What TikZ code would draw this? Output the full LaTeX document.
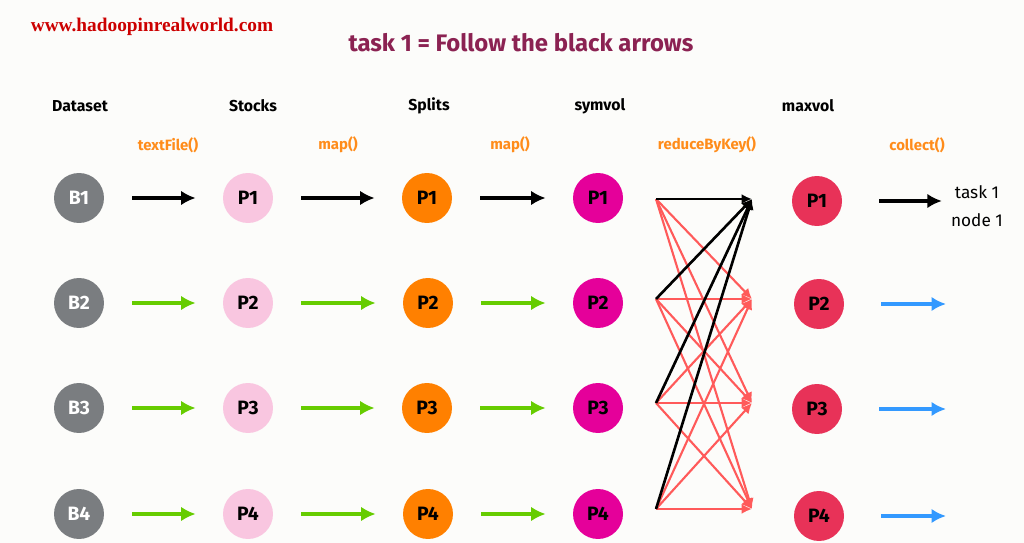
\documentclass[tikz,border=0pt]{standalone}
\usepackage{fontspec}
\setmainfont{Fira Sans}
\newfontfamily\webfont{Liberation Serif}
\usetikzlibrary{arrows.meta,positioning,calc}
\definecolor{pagebg}{RGB}{252,252,250}
\definecolor{blockgray}{RGB}{122,125,128}
\definecolor{stockpink}{RGB}{249,198,224}
\definecolor{splitorange}{RGB}{255,128,0}
\definecolor{symmagenta}{RGB}{229,0,154}
\definecolor{maxred}{RGB}{232,50,88}
\definecolor{opcolor}{RGB}{255,140,26}
\definecolor{titlecolor}{RGB}{139,34,82}
\definecolor{webred}{RGB}{204,0,0}
\definecolor{greenarrow}{RGB}{102,204,0}
\definecolor{bluearrow}{RGB}{51,153,255}
\definecolor{shufred}{RGB}{255,90,90}
\tikzset{
  part/.style={circle,minimum size=1cm,inner sep=0pt,font=\bfseries\fontsize{11}{13}\selectfont},
  blk/.style={part,fill=blockgray,text=white},
  stk/.style={part,fill=stockpink},
  spl/.style={part,fill=splitorange},
  sym/.style={part,fill=symmagenta},
  mxv/.style={part,fill=maxred},
  head/.style={font=\bfseries\fontsize{9}{11}\selectfont},
  op/.style={font=\bfseries\fontsize{8.5}{10}\selectfont,text=opcolor},
  link/.style={-{Latex[length=2.9mm,width=2.9mm]},line width=2pt,shorten <=5.6mm,shorten >=5.4mm},
  shuf/.style={-{Latex[length=2.1mm,width=2mm]},line width=1.2pt,shufred},
}

\begin{document}
\begin{tikzpicture}[x=0.02cm,y=-0.02cm]
\path[use as bounding box,fill=pagebg] (0,0) rectangle (1024,543);
\node (web) at (152,27) {\webfont\bfseries\fontsize{11}{13}\selectfont\color{webred}www.hadoopinrealworld.com};
\node (title) at (521,43) [font=\bfseries\fontsize{13.6}{16}\selectfont,text=titlecolor] {task 1 = Follow the black arrows};
% column heads
\node[head] (hdata) at (80,106) {Dataset};
\node[head] (hstk) at (253,106) {Stocks};
\node[head] (hspl) at (429,106) {Splits};
\node[head] (hsym) at (600,106) {symvol};
\node[head] (hmax) at (808,106) {maxvol};
\node[op] (otext) at (168,145) {textFile()};
\node[op] (omap1) at (338,145) {map()};
\node[op] (omap2) at (510,145) {map()};
\node[op] (ored) at (707,145) {reduceByKey()};
\node[op] (ocol) at (917,145) {collect()};
% partitions
\node[blk] (b1) at (79,198) {B1};
\node[blk] (b2) at (79,303) {B2};
\node[blk] (b3) at (79,408) {B3};
\node[blk] (b4) at (79,514) {B4};
\node[stk] (s1) at (248,198) {P1};
\node[stk] (s2) at (248,303) {P2};
\node[stk] (s3) at (248,408) {P3};
\node[stk] (s4) at (248,514) {P4};
\node[spl] (sp1) at (427,198) {P1};
\node[spl] (sp2) at (428,303) {P2};
\node[spl] (sp3) at (427,408) {P3};
\node[spl] (sp4) at (428,514) {P4};
\node[sym] (sv1) at (598,198) {P1};
\node[sym] (sv2) at (598,303) {P2};
\node[sym] (sv3) at (598,408) {P3};
\node[sym] (sv4) at (598,514) {P4};
\node[mxv] (mv1) at (817,201) {P1};
\node[mxv] (mv2) at (819,304) {P2};
\node[mxv] (mv3) at (817,409) {P3};
\node[mxv] (mv4) at (819,516) {P4};
\node (task) at (977,206) [align=center,font=\fontsize{9.8}{16}\selectfont] {task 1\\node 1};
\draw[link] (b1)--(s1); \draw[link] (s1)--(sp1); \draw[link] (sp1)--(sv1);
\draw[link,greenarrow] (b2)--(s2); \draw[link,greenarrow] (s2)--(sp2); \draw[link,greenarrow] (sp2)--(sv2);
\draw[link,greenarrow] (b3)--(s3); \draw[link,greenarrow] (s3)--(sp3); \draw[link,greenarrow] (sp3)--(sv3);
\draw[link,greenarrow] (b4)--(s4); \draw[link,greenarrow] (s4)--(sp4); \draw[link,greenarrow] (sp4)--(sv4);
% shuffle
\coordinate (rs1) at (656,199); \coordinate (rt1) at (752,199);
\coordinate (rs2) at (656,299); \coordinate (rt2) at (752,299);
\coordinate (rs3) at (656,403); \coordinate (rt3) at (752,403);
\coordinate (rs4) at (656,509); \coordinate (rt4) at (752,509);
\draw[shuf] (rs1)--(rt2); \draw[shuf] (rs1)--(rt3); \draw[shuf] (rs1)--(rt4);
\draw[shuf] (rs2)--(rt2); \draw[shuf] (rs2)--(rt3); \draw[shuf] (rs2)--(rt4);
\draw[shuf] (rs3)--(rt2); \draw[shuf] (rs3)--(rt3); \draw[shuf] (rs3)--(rt4);
\draw[shuf] (rs4)--(rt2); \draw[shuf] (rs4)--(rt3); \draw[shuf] (rs4)--(rt4);
\draw[shuf,black,line width=1.5pt] (rs1)--(rt1); \draw[shuf,black,line width=1.5pt] (rs2)--(rt1);
\draw[shuf,black,line width=1.5pt] (rs3)--(rt1); \draw[shuf,black,line width=1.5pt] (rs4)--(rt1);
% collect
\coordinate (c2) at (946,304); \coordinate (c3) at (946,409); \coordinate (c4) at (946,516);
\draw[link,shorten <=7.4mm,shorten >=0.6mm] (mv1)--(mv1 -| task.west);
\draw[link,bluearrow,shorten <=7.4mm,shorten >=0pt] (mv2)--(c2);
\draw[link,bluearrow,shorten <=7.4mm,shorten >=0pt] (mv3)--(c3);
\draw[link,bluearrow,shorten <=7.4mm,shorten >=0pt] (mv4)--(c4);
\end{tikzpicture}
\end{document}
